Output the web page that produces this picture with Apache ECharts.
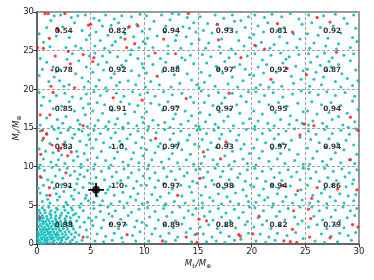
<!DOCTYPE html>
<html><head><meta charset="utf-8">
<script src="https://cdn.jsdelivr.net/npm/echarts@6/dist/echarts.min.js"></script>
<style>html,body{margin:0;padding:0;background:#fff}#c{width:374px;height:280px}</style>
</head><body><div id="c"></div>
<script>
var xTicks = [0,5,10,15,20,25,30];
var yTicks = [0,5,10,15,20,25,30];
var cellCentersX = [2.5,7.5,12.5,17.5,22.5,27.5];
var cellCentersY = [27.5,22.5,17.5,12.5,7.5,2.5];
var cellValues = [
 ["0.54","0.82","0.94","0.93","0.81","0.92"],
 ["0.78","0.92","0.88","0.97","0.92","0.87"],
 ["0.85","0.91","0.97","0.97","0.95","0.94"],
 ["0.83","1.0","0.97","0.93","0.97","0.94"],
 ["0.91","1.0","0.97","0.98","0.94","0.86"],
 ["0.98","0.97","0.89","0.88","0.82","0.79"]
];
var starPoint = [5.5,7.0];
var starErrX = 0.73;
var starErrY = 0.9;
var cyanPoints = [
[0.2,27.2],[0.6,26.1],[1.3,28.9],[1.6,29.5],[2.2,29.6],[3.2,29.3],[3.8,29.5],[4.5,29.6],[3.5,28.6],[2.4,28.1],[4.2,27.6],[3.0,26.7],[4.6,26.4],[4.9,27.0],[1.8,26.9],[3.6,25.6],[2.7,25.4],[4.1,25.3],[0.9,28.0],[1.2,25.5],
[5.3,29.2],[5.8,28.9],[6.4,29.6],[7.2,29.1],[7.9,29.5],[8.8,29.4],[9.6,29.7],[6.1,28.2],[6.9,28.3],[7.6,28.6],[8.5,28.0],[9.3,28.4],[5.5,27.4],[6.6,27.0],[8.2,27.2],[9.8,27.5],[5.9,26.3],[7.3,26.2],[9.0,26.8],[9.9,26.2],[6.3,25.3],[7.0,25.7],[8.8,25.1],[5.4,25.6],[9.5,25.4],[7.8,26.7],
[10.2,29.5],[10.9,28.8],[11.6,29.6],[12.4,29.0],[13.2,29.7],[14.0,29.3],[14.6,28.6],[10.5,27.8],[12.0,28.2],[13.6,28.1],[14.8,27.4],[10.3,26.6],[11.2,26.9],[12.9,26.3],[13.9,26.8],[14.4,25.9],[10.8,25.4],[12.2,25.6],[13.4,25.3],[11.9,27.4],[14.2,27.9],[10.1,25.9],[12.6,29.8],[13.0,27.0],
[15.2,29.4],[15.9,28.5],[16.6,29.6],[17.4,29.2],[18.2,29.6],[19.0,28.9],[19.7,29.4],[15.5,27.6],[16.3,27.3],[17.8,27.9],[18.6,27.4],[19.4,28.0],[15.1,26.4],[16.0,26.0],[17.2,26.5],[18.8,26.3],[19.8,26.7],[15.7,25.3],[17.0,25.5],[18.1,25.2],[19.3,25.6],[16.8,28.4],[18.4,28.8],
[20.3,29.6],[21.2,29.3],[21.9,29.7],[22.8,29.4],[23.6,29.8],[24.4,29.1],[20.6,28.2],[21.5,28.6],[23.0,28.0],[24.7,28.4],[20.2,27.1],[21.1,27.4],[22.6,26.8],[23.9,27.2],[24.5,26.5],[20.9,26.1],[22.1,25.8],[23.3,26.0],[24.2,25.4],[21.7,25.3],[20.4,25.6],[22.4,27.6],
[25.3,29.6],[26.7,29.5],[27.8,29.7],[28.6,29.2],[29.5,29.6],[25.6,28.6],[26.4,28.0],[27.6,28.2],[28.9,28.5],[29.7,27.9],[25.2,27.2],[26.2,27.0],[27.1,26.6],[28.3,27.3],[29.4,26.7],[25.8,26.0],[26.9,25.6],[28.1,25.9],[29.2,25.4],[25.4,25.3],[27.9,25.2],[29.8,26.2],
[0.3,24.0],[0.9,23.5],[1.5,22.9],[1.8,22.3],[1.6,21.6],[2.1,21.1],[3.6,22.0],[4.2,21.5],[4.6,22.9],[3.9,23.7],[2.8,23.9],[0.5,22.6],[1.1,21.0],[2.5,20.4],[3.0,20.6],[4.4,20.3],[4.8,21.0],[2.2,22.5],[0.2,21.8],[3.3,24.6],[4.9,24.3],
[5.4,24.7],[6.1,24.3],[6.8,24.8],[7.5,24.2],[8.7,24.5],[9.4,24.0],[5.7,23.2],[6.5,23.5],[7.9,23.1],[8.3,23.7],[9.8,23.3],[5.2,22.2],[6.2,22.5],[7.2,22.0],[8.8,22.4],[9.5,21.8],[5.8,21.2],[6.9,21.5],[7.7,20.9],[8.5,21.1],[9.2,20.6],[5.5,20.4],[6.4,20.2],[7.4,20.5],[9.9,22.8],[8.0,22.9],
[10.4,24.3],[11.5,24.0],[12.2,24.6],[13.5,24.1],[14.3,24.4],[10.8,23.2],[12.0,23.5],[13.1,23.0],[14.6,23.3],[10.2,22.1],[11.7,22.3],[12.8,21.9],[14.0,22.0],[10.6,21.0],[11.4,20.6],[13.3,20.8],[14.4,21.2],[12.5,20.3],[14.9,20.6],[13.8,23.8],[10.1,20.3],
[15.4,24.5],[16.2,24.2],[17.1,24.7],[17.9,24.1],[18.5,24.6],[19.6,24.3],[15.8,23.4],[16.7,23.0],[17.5,23.6],[18.9,23.2],[19.4,22.6],[15.3,22.2],[16.1,21.8],[17.3,22.1],[18.2,21.6],[19.8,21.9],[15.6,20.9],[16.6,20.4],[17.8,20.7],[18.7,20.3],[19.2,21.1],[16.9,22.6],[18.4,22.9],[15.1,20.2],
[20.3,24.6],[21.0,23.8],[21.8,24.4],[22.7,24.7],[23.5,24.2],[24.4,24.5],[20.6,22.9],[21.4,23.2],[22.9,23.4],[24.1,23.0],[24.8,22.4],[20.2,21.8],[21.1,22.1],[22.3,22.2],[23.7,21.7],[20.8,20.6],[22.0,20.9],[22.8,20.4],[23.9,20.8],[24.6,21.3],[20.4,20.2],[21.6,20.3],[23.2,23.9],
[25.3,24.6],[26.1,24.2],[26.8,24.7],[27.5,24.1],[28.6,24.4],[29.5,24.6],[25.5,23.5],[26.4,23.1],[27.2,23.6],[28.1,23.2],[29.2,23.7],[25.2,22.6],[26.0,22.2],[27.0,22.4],[28.4,22.0],[29.7,22.5],[25.8,21.3],[26.7,21.6],[27.8,21.0],[28.9,21.4],[29.9,21.1],[25.4,20.4],[26.5,20.6],[28.3,20.3],[29.4,20.5],[27.4,22.9],
[0.2,19.6],[0.6,19.0],[1.2,18.5],[1.8,19.2],[2.6,19.5],[3.3,19.0],[4.1,18.8],[4.6,19.4],[0.4,17.9],[1.5,17.5],[2.3,17.8],[3.5,17.2],[4.3,17.6],[4.8,18.1],[0.9,16.3],[1.9,16.1],[2.7,16.5],[3.8,16.0],[4.5,16.7],[0.3,15.4],[1.4,15.2],[2.4,15.6],[3.1,15.1],[4.0,15.5],[4.7,15.2],[3.0,18.4],[2.0,15.0],
[5.3,19.7],[5.9,19.2],[6.5,19.8],[7.4,19.5],[8.1,19.1],[8.9,19.7],[9.6,19.3],[5.6,18.3],[6.3,18.0],[7.8,18.4],[8.6,18.1],[9.4,17.9],[5.2,17.2],[6.1,16.9],[7.0,17.3],[8.2,16.8],[9.1,17.1],[9.8,16.4],[5.7,16.0],[6.7,15.8],[7.5,16.2],[8.5,15.6],[9.3,15.3],[5.4,15.3],[6.4,15.2],[7.3,15.5],[8.0,15.1],[9.9,15.7],
[10.3,19.6],[11.0,19.1],[11.8,19.7],[12.6,19.3],[13.5,19.5],[14.3,19.0],[10.6,18.2],[11.4,18.0],[12.2,18.4],[13.0,17.8],[14.6,18.3],[10.2,17.1],[11.7,17.3],[12.9,16.8],[13.8,17.2],[14.4,16.6],[10.8,16.0],[11.9,15.7],[12.7,16.2],[13.4,15.5],[14.1,15.9],[10.4,15.2],[11.3,15.4],[14.8,15.3],[12.4,15.1],
[15.3,19.8],[16.0,19.2],[16.9,19.6],[17.5,18.9],[18.2,19.5],[19.0,19.1],[19.7,19.7],[15.6,18.3],[16.4,17.9],[17.2,18.2],[18.6,18.0],[19.5,18.4],[15.2,17.0],[16.1,16.7],[17.0,17.1],[17.8,16.5],[18.9,16.9],[19.8,16.2],[15.7,15.8],[16.6,15.5],[17.4,15.9],[18.3,15.3],[19.2,15.6],[15.1,15.2],[16.9,15.1],[18.0,17.4],
[20.4,19.7],[21.2,19.2],[22.0,19.6],[22.9,19.0],[23.8,19.4],[24.6,19.8],[20.7,18.4],[21.6,18.0],[22.5,18.3],[23.3,17.8],[24.3,18.2],[20.2,17.2],[21.0,16.8],[22.2,17.0],[23.6,16.6],[24.8,17.1],[20.6,15.9],[21.5,15.6],[22.7,16.1],[23.5,15.5],[24.2,16.0],[20.3,15.2],[22.1,15.3],[24.7,15.6],
[25.4,19.6],[26.2,19.3],[27.0,19.7],[27.8,19.2],[28.7,19.6],[29.6,19.1],[25.6,18.4],[26.5,18.0],[27.4,18.3],[28.3,17.9],[29.4,18.5],[29.9,17.4],[25.2,17.2],[26.1,16.8],[27.2,17.0],[28.1,16.5],[28.9,16.9],[25.7,15.9],[26.6,15.6],[27.5,16.1],[28.5,15.4],[29.6,15.8],[25.3,15.4],[27.0,15.2],[29.0,15.1],
[0.3,14.6],[0.9,14.3],[1.6,14.8],[2.2,14.4],[2.9,14.7],[3.5,14.2],[4.2,14.6],[4.8,14.1],[0.5,13.4],[1.2,13.0],[1.9,13.6],[2.6,13.2],[3.3,13.7],[4.0,13.3],[4.6,12.8],[0.2,12.3],[0.8,12.0],[1.5,11.8],[3.0,12.4],[3.7,12.0],[4.4,11.7],[0.6,11.0],[1.3,10.6],[2.0,10.9],[2.6,10.4],[3.4,10.8],[4.1,10.3],[4.7,10.9],[0.3,10.2],[1.8,10.2],[3.8,11.3],[2.3,11.5],[4.9,13.5],[3.9,14.8],
[5.3,14.7],[5.9,14.3],[6.6,14.8],[7.3,14.4],[8.0,14.9],[8.7,14.2],[9.4,14.6],[5.5,13.5],[6.2,13.1],[6.9,13.7],[7.7,13.3],[8.4,13.6],[9.2,13.1],[9.8,13.8],[5.2,12.4],[6.0,12.0],[6.8,12.5],[7.5,11.9],[8.3,12.3],[9.0,11.8],[9.7,12.4],[5.6,11.2],[6.4,10.8],[7.2,11.1],[8.0,10.6],[8.8,11.0],[9.5,10.5],[5.4,10.3],[6.9,10.2],[8.5,10.2],[7.9,12.9],[9.9,11.4],
[10.3,14.7],[11.1,14.4],[11.9,14.8],[12.7,14.3],[13.4,14.6],[14.2,14.1],[14.9,14.7],[10.6,13.4],[11.5,13.0],[12.4,13.5],[13.2,13.1],[14.0,13.4],[14.7,12.9],[10.2,12.2],[11.0,11.8],[11.8,12.3],[12.6,11.7],[13.5,12.2],[14.3,11.6],[10.7,10.9],[11.6,10.6],[12.3,11.0],[13.1,10.5],[13.9,10.9],[14.6,10.3],[10.4,10.2],[12.9,12.7],[11.3,12.6],
[15.2,14.8],[15.8,14.3],[16.5,14.7],[17.2,14.2],[18.0,14.6],[18.8,14.1],[19.5,14.8],[15.4,13.5],[16.2,13.1],[17.0,13.6],[17.8,13.0],[18.6,13.4],[19.3,12.9],[15.1,12.6],[15.9,12.2],[16.7,12.5],[18.2,12.0],[19.0,12.3],[19.8,11.7],[15.6,11.3],[16.4,10.9],[17.5,11.4],[18.4,10.7],[19.2,11.0],[15.3,10.4],[16.8,10.3],[17.9,10.2],[19.6,10.4],
[20.3,14.8],[21.0,14.3],[21.7,14.7],[22.5,14.2],[23.2,14.6],[24.0,14.9],[20.5,13.5],[21.3,13.1],[22.1,13.6],[22.9,13.0],[23.7,13.4],[24.5,13.8],[20.2,12.4],[21.0,12.0],[21.9,12.3],[22.7,11.7],[23.5,12.2],[24.3,11.6],[20.7,11.1],[21.6,10.7],[22.4,11.0],[23.1,10.4],[24.0,10.8],[24.8,10.3],[20.4,10.2],[22.6,12.8],
[25.3,14.6],[26.0,14.2],[26.8,14.8],[27.5,14.3],[28.3,14.7],[29.1,14.2],[29.7,14.9],[25.5,13.5],[26.3,13.1],[27.2,13.6],[28.0,13.0],[28.8,13.4],[29.5,12.8],[25.2,12.4],[26.1,12.0],[26.9,12.5],[27.8,11.8],[28.6,12.2],[29.8,11.6],[25.7,11.1],[26.6,10.7],[27.4,11.0],[28.3,10.5],[29.1,10.9],[25.4,10.3],[27.0,10.2],[29.6,10.4],
[0.2,9.8],[0.7,9.5],[1.4,9.9],[2.1,9.6],[2.8,9.8],[3.5,9.4],[4.1,9.9],[4.7,9.5],[0.4,8.6],[1.0,8.3],[1.7,8.8],[2.4,8.5],[3.1,8.9],[3.8,8.4],[4.4,8.7],[0.6,7.6],[1.6,7.2],[2.3,7.7],[3.0,7.4],[3.7,7.8],[4.3,7.3],[4.9,7.9],[0.3,6.6],[0.9,6.3],[1.8,6.5],[2.5,6.8],[3.2,6.2],[3.9,6.6],[4.6,6.3],[0.5,5.5],[1.2,5.3],[1.9,5.7],[2.7,5.4],[3.4,5.8],[4.1,5.2],[4.8,5.6],[2.1,6.1],[1.4,8.0],[4.0,9.0],[0.1,7.2],[3.5,7.0],[2.8,5.1],[4.5,5.9],[1.0,5.8],
[5.3,9.7],[6.0,9.4],[6.7,9.8],[7.4,9.3],[8.1,9.7],[8.8,9.2],[9.5,9.6],[5.5,8.6],[6.3,8.3],[7.0,8.7],[7.8,8.2],[8.5,8.6],[9.3,8.1],[9.9,8.8],[5.2,7.8],[6.8,7.4],[7.5,7.9],[8.3,7.5],[9.0,7.2],[9.7,7.6],[5.6,6.2],[6.4,6.6],[7.2,6.3],[8.0,6.7],[8.7,6.1],[9.4,6.5],[5.3,5.4],[6.1,5.6],[6.9,5.2],[7.7,5.5],[8.4,5.3],[9.2,5.7],[9.8,5.2],[6.6,7.0],[5.9,5.0],
[10.3,9.7],[11.0,9.2],[11.8,9.8],[12.5,9.4],[13.3,9.7],[14.0,9.2],[14.8,9.6],[10.5,8.5],[11.3,8.2],[12.1,8.7],[12.9,8.3],[13.7,8.8],[14.5,8.1],[10.2,7.6],[11.0,7.3],[11.8,7.8],[12.6,7.1],[14.2,7.4],[14.9,7.9],[10.7,6.4],[11.5,6.1],[12.3,6.6],[13.5,6.2],[14.4,6.7],[10.3,5.4],[11.2,5.7],[12.0,5.2],[12.8,5.5],[13.8,5.3],[14.6,5.6],[13.4,7.6],[11.9,5.0],
[15.2,9.7],[15.9,9.3],[16.6,9.8],[17.3,9.4],[18.1,9.7],[18.9,9.1],[19.6,9.6],[15.5,8.6],[16.3,8.2],[17.1,8.7],[17.9,8.3],[18.7,8.6],[19.4,8.1],[15.7,7.4],[16.5,7.7],[17.4,7.2],[18.3,7.5],[19.2,7.0],[19.9,7.6],[15.3,6.3],[16.1,6.0],[16.9,6.5],[17.7,6.1],[18.5,6.6],[19.5,6.2],[15.4,5.3],[16.4,5.6],[17.2,5.2],[18.0,5.5],[18.8,5.2],[19.7,5.5],
[20.3,9.8],[21.0,9.4],[21.8,9.7],[22.6,9.2],[23.4,9.6],[24.2,9.3],[24.8,9.8],[20.5,8.5],[21.3,8.1],[22.1,8.6],[22.8,8.2],[23.7,8.7],[24.5,8.3],[20.2,7.4],[21.1,7.1],[21.9,7.6],[22.5,7.2],[23.6,7.5],[24.6,7.0],[20.7,6.3],[21.5,6.0],[22.4,6.5],[23.2,6.1],[24.1,6.4],[20.4,5.4],[21.2,5.7],[22.0,5.2],[22.9,5.5],[23.8,5.3],[24.7,5.7],
[25.3,9.7],[26.0,9.3],[26.8,9.8],[27.6,9.4],[28.4,9.7],[29.1,9.2],[29.8,9.6],[25.5,8.5],[26.3,8.1],[27.1,8.6],[27.9,8.2],[28.7,8.7],[29.5,8.3],[25.2,7.6],[26.8,7.1],[27.5,7.6],[28.8,7.4],[29.4,7.8],[25.7,6.3],[26.5,6.6],[27.3,6.1],[28.2,6.5],[29.0,6.2],[29.7,6.4],[25.4,5.3],[26.2,5.5],[27.0,5.2],[27.8,5.6],[28.6,5.3],[29.5,5.6],
[0.1,0.15],[0.35,0.2],[0.6,0.1],[0.9,0.25],[1.2,0.15],[1.5,0.3],[1.85,0.1],[2.2,0.25],[2.6,0.15],[3.1,0.3],[3.7,0.2],
[0.2,0.5],[0.45,0.6],[0.7,0.45],[1.0,0.55],[1.3,0.6],[1.6,0.45],[1.95,0.6],[2.3,0.5],[2.75,0.65],[3.3,0.55],[4.2,0.5],
[0.1,0.9],[0.4,0.85],[0.65,0.95],[0.95,0.8],[1.2,0.95],[1.5,0.85],[1.8,0.9],[2.1,0.8],[2.5,0.95],[2.9,0.85],[3.5,0.9],
[0.25,1.2],[0.5,1.25],[0.8,1.15],[1.05,1.3],[1.35,1.2],[1.65,1.25],[2.0,1.15],[2.35,1.3],[2.7,1.2],[3.2,1.25],[3.9,1.15],
[0.1,1.55],[0.4,1.6],[0.7,1.5],[0.95,1.65],[1.25,1.55],[1.55,1.6],[1.9,1.5],[2.2,1.65],[2.6,1.55],[3.0,1.6],[3.6,1.5],
[0.3,1.9],[0.6,1.95],[0.85,1.85],[1.15,2.0],[1.45,1.9],[1.75,1.95],[2.1,1.85],[2.45,2.0],[2.85,1.9],[3.4,1.95],
[0.15,2.25],[0.45,2.3],[0.75,2.2],[1.05,2.35],[1.35,2.25],[1.7,2.3],[2.0,2.2],[2.4,2.35],[2.8,2.25],[3.3,2.3],[4.0,2.2],
[0.3,2.6],[0.6,2.65],[0.9,2.55],[1.2,2.7],[1.55,2.6],[1.9,2.65],[2.3,2.55],[2.7,2.7],[3.2,2.6],
[0.1,2.95],[0.45,3.0],[0.8,2.9],[1.1,3.05],[1.45,2.95],[1.8,3.0],[2.2,2.9],[2.65,3.05],[3.1,2.95],[3.7,3.0],
[0.25,3.3],[0.6,3.35],[0.95,3.25],[1.3,3.4],[1.7,3.3],[2.1,3.35],[2.6,3.25],[3.1,3.4],
[0.15,3.65],[0.5,3.7],[0.9,3.6],[1.3,3.75],[1.75,3.65],[2.2,3.7],[2.75,3.6],[3.4,3.75],
[0.3,4.0],[0.75,4.05],[1.2,3.95],[1.7,4.1],[2.3,4.0],[2.9,4.05],[3.6,3.95],
[0.2,4.35],[0.7,4.4],[1.3,4.3],[1.9,4.45],[2.6,4.35],[3.3,4.4],[4.3,4.3],
[0.5,4.7],[1.1,4.75],[1.8,4.65],[2.5,4.8],[3.2,4.7],[4.0,4.75],
[4.6,1.8],[4.8,3.4],[4.4,2.8],[4.7,0.9],[3.9,3.5],[0.05,0.7],[0.55,1.8],[1.4,0.7],[0.2,3.1],[1.0,1.9],[0.35,0.05],[0.75,0.65],[1.1,1.4],[0.6,2.9],[1.8,1.2],[2.3,0.8],[0.15,1.3],[0.9,0.4],
[5.3,4.6],[5.9,4.2],[6.6,4.8],[7.3,4.3],[8.1,4.7],[8.8,4.1],[9.5,4.5],[5.5,3.5],[6.2,3.1],[7.0,3.6],[7.8,3.2],[8.5,3.7],[9.3,3.0],[5.2,2.4],[6.0,2.1],[6.8,2.6],[7.6,2.0],[8.3,2.5],[9.1,2.2],[9.8,2.8],[5.6,1.3],[6.4,1.0],[7.2,1.4],[7.9,0.8],[8.9,1.1],[9.6,1.6],[5.4,0.4],[6.2,0.3],[7.0,0.5],[8.0,0.2],[9.2,0.4],[6.7,3.9],[5.1,3.0],
[10.3,4.7],[11.0,4.2],[11.8,4.6],[12.6,4.1],[13.3,4.8],[14.1,4.3],[14.8,4.6],[10.5,3.5],[11.3,3.1],[12.1,3.6],[12.9,3.0],[13.7,3.4],[14.5,3.8],[10.2,2.4],[11.0,2.0],[11.9,2.5],[12.7,2.1],[13.5,2.6],[14.3,2.0],[10.7,1.3],[11.5,1.0],[12.3,1.4],[13.1,0.9],[13.9,1.5],[14.7,1.2],[10.4,0.4],[12.0,0.3],[12.9,0.5],[14.4,0.3],
[15.4,4.7],[16.1,4.2],[16.9,4.6],[17.6,4.0],[18.4,4.5],[19.2,4.1],[19.8,4.8],[15.6,3.6],[16.4,3.1],[17.2,3.5],[18.0,3.0],[18.8,3.4],[19.6,2.9],[15.2,2.2],[16.0,2.5],[16.8,2.0],[17.6,2.4],[18.5,2.1],[19.4,2.5],[15.5,1.3],[16.3,0.9],[17.1,1.5],[17.9,1.0],[19.0,0.6],[19.7,1.4],[15.8,0.3],[16.7,0.4],[17.5,0.2],[18.4,0.5],
[20.3,4.7],[21.1,4.3],[21.9,4.8],[22.6,4.2],[23.4,4.6],[24.5,4.8],[20.6,3.4],[21.4,3.0],[22.3,3.6],[23.1,3.1],[24.0,3.5],[24.7,3.0],[20.2,2.2],[21.0,2.5],[21.8,2.0],[22.6,2.4],[24.3,2.6],[20.8,1.3],[21.6,0.9],[22.4,1.4],[23.3,1.1],[24.1,1.5],[24.8,0.7],[20.4,0.4],[21.3,0.2],[22.2,0.5],
[25.6,4.8],[26.3,4.3],[27.0,4.7],[27.8,4.4],[28.5,4.8],[29.2,4.3],[29.8,4.6],[25.8,3.6],[26.6,3.1],[27.4,3.5],[28.2,3.0],[28.9,3.4],[29.6,3.7],[25.3,2.2],[26.1,2.5],[27.0,2.0],[27.8,2.4],[28.6,2.1],[26.5,1.3],[27.4,1.0],[28.2,1.4],[29.0,1.1],[29.7,1.5],[25.9,0.4],[26.8,0.2],[28.0,0.3],[29.3,0.5]
];
var redPoints = [
[1.05,29.8],[2.6,29.8],[0.75,29.8],[1.9,27.9],[2.0,27.6],[1.15,26.6],[0.05,25.4],[0.6,25.3],[5.0,28.4],[4.8,28.3],
[8.6,28.1],[9.4,28.2],[8.2,26.5],[9.1,25.9],[8.35,25.4],[11.8,26.5],[14.1,29.8],[16.8,28.4],[16.9,26.4],[22.4,28.5],[23.8,27.4],[26.1,29.3],[27.3,28.7],[20.3,25.7],[21.2,25.2],
[1.7,24.3],[2.9,24.9],[4.3,24.5],[1.4,22.5],[3.1,23.3],[1.3,20.4],[3.5,20.2],[5.3,24.1],[5.2,23.6],
[27.9,24.8],[19.0,24.1],[11.0,24.7],[12.9,24.6],[11.2,21.7],[23.3,22.7],[21.8,21.3],[25.1,21.9],
[1.5,19.6],[0.3,16.7],[1.2,16.7],[4.3,15.3],[7.1,18.9],[9.8,18.6],[17.9,19.5],[13.9,18.8],[24.9,15.5],[25.8,15.3],[29.2,16.4],[29.9,14.7],
[0.9,14.2],[0.5,14.7],[0.6,13.7],[1.4,12.8],[2.45,12.9],[2.0,12.1],[2.2,12.4],[0.35,11.6],[2.86,11.4],[3.2,11.9],[11.05,13.65],[15.5,11.9],[17.1,11.0],[17.6,13.2],[24.5,14.1],[29.2,10.9],
[0.3,8.7],[2.7,9.2],[1.15,7.3],[1.2,6.3],[13.1,6.3],[15.2,8.5],[22.9,7.6],[24.3,6.9],[26.1,7.3],[28.0,7.1],[29.8,7.0],[25.6,5.9],
[4.3,0.9],[0.3,3.4],[8.4,1.2],[11.7,0.4],[13.9,0.9],[14.9,1.3],[14.9,0.2],[15.1,3.2],[15.8,3.0],[18.8,1.2],[18.95,1.0],[20.1,1.3],
[20.7,3.6],[23.9,4.3],[23.8,1.9],[23.0,0.4],[23.6,0.3],[24.2,0.2],[25.3,4.5],[25.5,3.3],[29.4,2.5],[29.9,2.2],[27.3,0.8],[25.4,0.9]
];

var labelData = [];
for (var r = 0; r < cellCentersY.length; r++) {
  for (var c = 0; c < cellCentersX.length; c++) {
    labelData.push({value: [cellCentersX[c], cellCentersY[r]], text: cellValues[r][c]});
  }
}

var chart = echarts.init(document.getElementById('c'), null, {renderer: 'canvas'});
var font = 'DejaVu Sans';
var axisCommon = {
  min: 0, max: 30, interval: 5,
  axisLine: {show: true, onZero: false, lineStyle: {color: '#555', width: 1.5}},
  axisTick: {show: true, inside: false, length: 3.5, lineStyle: {color: '#333', width: 1}},
  axisLabel: {color: '#222', fontSize: 8.5, fontFamily: font, margin: 3},
  splitLine: {show: true, lineStyle: {color: '#a0a0a0', type: [3, 2], width: 1}}
};
var rich = {
  i: {fontSize: 8.5, fontStyle: 'italic', fontFamily: font, color: '#222'},
  s: {fontSize: 6, fontFamily: font, color: '#222', verticalAlign: 'bottom', padding: [4, 0, 0, 0]}
};
var option = {
  animation: false,
  grid: {left: 37, right: 15, top: 12, bottom: 36, outerBoundsMode: 'none', containLabel: false, show: true, borderColor: '#777', borderWidth: 1.5, backgroundColor: 'transparent'},
  xAxis: Object.assign({}, axisCommon, {
    type: 'value',
    name: '{i|M}{s|b}{i|/M}{s|\u2295}',
    nameLocation: 'middle', nameGap: 15, nameMoveOverlap: false,
    nameTextStyle: {rich: rich}
  }),
  yAxis: Object.assign({}, axisCommon, {
    type: 'value',
    name: '{i|M}{s|r}{i|/M}{s|\u2295}',
    nameLocation: 'middle', nameGap: 15, nameMoveOverlap: false,
    nameTextStyle: {rich: rich}
  }),
  series: [
    {type: 'scatter', data: cyanPoints, symbol: 'circle', symbolSize: 3, itemStyle: {color: '#17bfbf', opacity: 0.95}, silent: true, z: 2},
    {type: 'scatter', data: redPoints, symbol: 'circle', symbolSize: 3.2, itemStyle: {color: '#ff1010'}, silent: true, z: 3},
    {type: 'scatter', data: labelData, symbolSize: 0, silent: true, z: 5,
      label: {show: true, position: 'inside', formatter: function(p){ return p.data.text; },
        fontSize: 7.3, fontWeight: 'bold', color: '#000', fontFamily: font}},
    {type: 'line', data: [[starPoint[0]-starErrX, starPoint[1]], [starPoint[0]+starErrX, starPoint[1]]], symbol: 'none', lineStyle: {color: '#000', width: 1.8}, silent: true, z: 6},
    {type: 'line', data: [[starPoint[0], starPoint[1]-starErrY], [starPoint[0], starPoint[1]+starErrY]], symbol: 'none', lineStyle: {color: '#000', width: 1.8}, silent: true, z: 6},
    {type: 'scatter', data: [starPoint], symbol: 'circle', symbolSize: 8, itemStyle: {color: '#000'}, silent: true, z: 7}
  ]
};
chart.setOption(option);
</script>
</body></html>
